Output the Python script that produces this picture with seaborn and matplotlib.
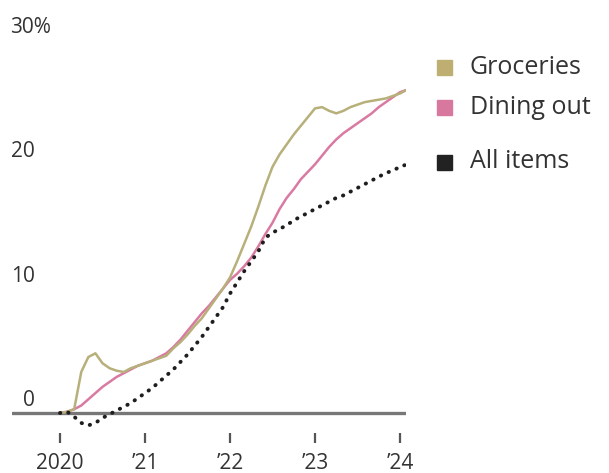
import numpy as np
import pandas as pd
import matplotlib
matplotlib.use("Agg")
import matplotlib.pyplot as plt
from matplotlib.patches import Rectangle
from matplotlib.transforms import ScaledTranslation
import seaborn as sns

# Cumulative price change since January 2020, monthly, Jan 2020 - Feb 2024 (%)
groceries = [0.0, 0.1, 0.3, 3.3, 4.5, 4.8, 4.0, 3.6, 3.4, 3.3,
             3.6, 3.8, 4.0, 4.2, 4.4, 4.6, 5.2, 5.7, 6.3, 7.0,
             7.6, 8.4, 9.2, 10.0, 10.9, 12.2, 13.6, 15.0, 16.6, 18.3,
             19.8, 20.8, 21.6, 22.4, 23.1, 23.8, 24.5, 24.6, 24.3, 24.1,
             24.3, 24.6, 24.8, 25.0, 25.1, 25.2, 25.3, 25.5, 25.7, 26.0]
dining_out = [0.0, 0.1, 0.3, 0.6, 1.1, 1.6, 2.1, 2.5, 2.9, 3.2,
              3.5, 3.8, 4.0, 4.2, 4.5, 4.8, 5.3, 5.9, 6.6, 7.3,
              8.0, 8.6, 9.3, 10.0, 10.7, 11.2, 11.8, 12.5, 13.4, 14.4,
              15.3, 16.4, 17.3, 18.0, 18.8, 19.4, 20.0, 20.7, 21.4, 22.0,
              22.5, 22.9, 23.3, 23.7, 24.1, 24.6, 25.0, 25.4, 25.8, 26.0]
all_items = [0.0, 0.1, -0.3, -0.8, -1.0, -0.8, -0.4, -0.1, 0.2, 0.5,
             0.8, 1.2, 1.6, 2.0, 2.5, 3.0, 3.5, 4.1, 4.7, 5.4,
             6.1, 6.9, 7.7, 8.5, 9.6, 10.5, 11.4, 12.2, 13.0, 14.1,
             14.5, 14.8, 15.1, 15.5, 15.8, 16.1, 16.4, 16.7, 17.0, 17.3,
             17.5, 17.8, 18.1, 18.4, 18.7, 19.0, 19.3, 19.5, 19.8, 20.0]

year_ticks = [2020, 2021, 2022, 2023, 2024]
year_labels = ["2020", "\u201921", "\u201922", "\u201923", "\u201924"]
y_ticks = [0, 10, 20, 30]
y_labels = ["0", "10", "20", "30%"]
series_names = ["Groceries", "Dining out", "All items"]

months = pd.date_range("2020-01-01", periods=len(groceries), freq="MS")
t = months.year + (months.month - 1) / 12.0

df = pd.DataFrame({"t": t, "Groceries": groceries,
                   "Dining out": dining_out, "All items": all_items})

sns.set_theme(style="white")
plt.rcParams["font.family"] = ["Open Sans", "DejaVu Sans"]

TEXT = "#333333"
colors = {"Groceries": "#b7b07a", "Dining out": "#d97aa2", "All items": "#1e1e1e"}
swatch = {"Groceries": "#bfae72", "Dining out": "#d9789f", "All items": "#222222"}

W, H = 609, 473
fig = plt.figure(figsize=(W / 100, H / 100), dpi=100)
ax = fig.add_axes([12 / W, 1 - 433 / H, (406 - 12) / W, (433 - 40) / H])

ax.axhline(0, color="#777777", lw=2.4, zorder=1)

sns.lineplot(data=df, x="t", y="Groceries", ax=ax, color=colors["Groceries"],
             lw=1.8, zorder=3)
sns.lineplot(data=df, x="t", y="Dining out", ax=ax, color=colors["Dining out"],
             lw=1.8, zorder=2)
sns.lineplot(data=df, x="t", y="All items", ax=ax, color=colors["All items"],
             lw=2.8, linestyle=(0, (0.1, 2.1)), dash_capstyle="round", zorder=4)

ax.set_xlim(2020 - 48 / 85, 2024 + 6 / 85)
ax.set_ylim(-1.61, 30)
for s in ax.spines.values():
    s.set_visible(False)
ax.set_xlabel("")
ax.set_ylabel("")

ax.set_xticks(year_ticks)
ax.set_xticklabels(year_labels, fontsize=15, color=TEXT)
ax.tick_params(axis="x", direction="out", length=7, width=1.6, color="#555555",
               pad=7.5, bottom=True)

ax.set_yticks(y_ticks)
ax.set_yticklabels(y_labels, fontsize=15, color=TEXT)
ax.tick_params(axis="y", length=0, pad=-23 * 0.72)
for lab in ax.get_yticklabels():
    lab.set_verticalalignment("baseline")
    dx = 0
    if lab.get_text().endswith("%"):
        lab.set_horizontalalignment("left")
        dx = -25 / 100
    else:
        lab.set_horizontalalignment("right")
    lab.set_transform(lab.get_transform() + ScaledTranslation(dx, 7 / 100, fig.dpi_scale_trans))

# Legend entries at right
legend_y = {"Groceries": 67, "Dining out": 107, "All items": 162}
for name in series_names:
    yc = legend_y[name]
    fig.patches.append(Rectangle((437 / W, 1 - (yc + 8) / H), 15 / W, 15 / H,
                                 transform=fig.transFigure, color=swatch[name]))
    fig.text(470 / W, 1 - yc / H, name, fontsize=18, color=TEXT,
             va="center", ha="left")

fig.savefig("out.png", dpi=100)
